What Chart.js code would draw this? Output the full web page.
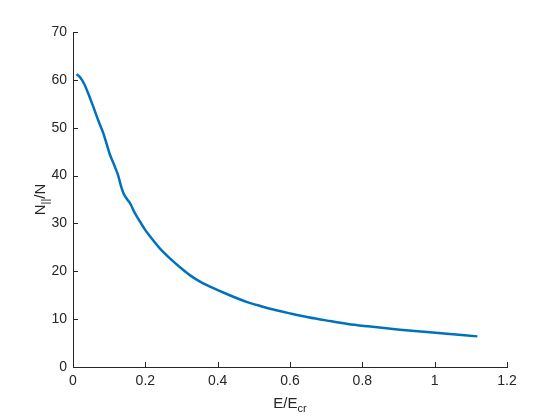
<!DOCTYPE html>
<html>
<head>
<meta charset="utf-8">
<script src="https://cdn.jsdelivr.net/npm/chart.js@4"></script>
<style>
  html, body { margin: 0; padding: 0; background: #fff; }
</style>
</head>
<body>
<canvas id="chart" width="560" height="420"></canvas>
<script>
// E/Ecr values and N||/N
const ratio = [0.010, 0.020, 0.030, 0.043, 0.056, 0.070, 0.084, 0.093, 0.102, 0.116,
  0.125, 0.132, 0.139, 0.150, 0.158, 0.170, 0.185, 0.200, 0.213, 0.240, 0.268, 0.295,
  0.323, 0.350, 0.379, 0.430, 0.480, 0.520, 0.554, 0.600, 0.650, 0.711, 0.760, 0.816,
  0.904, 1.010, 1.118];
const nRatio = [61.2, 60.5, 59.3, 57.0, 54.4, 51.5, 48.8, 46.6, 44.4, 41.8,
  40.0, 38.0, 36.4, 35.0, 34.2, 32.3, 30.4, 28.6, 27.3, 24.8, 22.7, 20.9,
  19.2, 17.9, 16.8, 15.1, 13.6, 12.7, 12.0, 11.2, 10.4, 9.6, 9.0, 8.5,
  7.8, 7.1, 6.4];
const xTicks = [0, 0.2, 0.4, 0.6, 0.8, 1, 1.2];
const yTicks = [0, 10, 20, 30, 40, 50, 60, 70];

const axisColor = "#262626";
const tickFont = { family: "'Liberation Sans', Arial, sans-serif", size: 14 };

// inward tick marks + titles with subscripts
const matlabAxes = {
  id: "matlabAxes",
  afterDraw(chart) {
    const { ctx, chartArea: a, scales: { x, y } } = chart;
    ctx.save();
    ctx.strokeStyle = axisColor;
    ctx.lineWidth = 1;
    ctx.beginPath();
    xTicks.forEach((v) => {
      const px = Math.round(x.getPixelForValue(v)) + 0.5;
      ctx.moveTo(px, a.bottom);
      ctx.lineTo(px, a.bottom - 5);
    });
    yTicks.forEach((v) => {
      const py = Math.round(y.getPixelForValue(v)) + 0.5;
      ctx.moveTo(a.left, py);
      ctx.lineTo(a.left + 5, py);
    });
    ctx.stroke();

    const big = "15px 'Liberation Sans', Arial, sans-serif";
    const small = "11px 'Liberation Sans', Arial, sans-serif";
    ctx.fillStyle = axisColor;
    ctx.textBaseline = "alphabetic";
    ctx.textAlign = "left";

    // x title: E/E_cr
    ctx.font = big;
    const w1 = ctx.measureText("E/E").width;
    ctx.font = small;
    const w2 = ctx.measureText("cr").width;
    let sx = (a.left + a.right) / 2 - (w1 + w2) / 2;
    ctx.font = big;
    ctx.fillText("E/E", sx, 408);
    ctx.font = small;
    ctx.fillText("cr", sx + w1, 412);

    // y title: N_||/N
    ctx.translate(45, (a.top + a.bottom) / 2);
    ctx.rotate(-Math.PI / 2);
    ctx.font = big;
    const n1 = ctx.measureText("N").width;
    const n3 = ctx.measureText("/N").width;
    ctx.font = small;
    const n2 = ctx.measureText("||").width;
    let sy = -(n1 + n2 + n3) / 2;
    ctx.font = big;
    ctx.fillText("N", sy, 0);
    ctx.font = small;
    ctx.fillText("||", sy + n1, 4);
    ctx.font = big;
    ctx.fillText("/N", sy + n1 + n2, 0);
    ctx.restore();
  },
};

new Chart(document.getElementById("chart"), {
  type: "scatter",
  data: {
    datasets: [
      {
        data: ratio.map((v, i) => ({ x: v, y: nRatio[i] })),
        showLine: true,
        borderColor: "rgb(0, 114, 189)",
        borderWidth: 2.5,
        pointRadius: 0,
        cubicInterpolationMode: "monotone",
      },
    ],
  },
  options: {
    responsive: false,
    animation: false,
    devicePixelRatio: 1,
    layout: { padding: { left: 0, right: 53, top: 32, bottom: 0 } },
    plugins: { legend: { display: false }, tooltip: { enabled: false } },
    scales: {
      x: {
        type: "linear",
        min: 0,
        max: 1.2,
        afterBuildTicks: (s) => { s.ticks = xTicks.map((v) => ({ value: v })); },
        afterFit: (s) => { s.height = 53; },
        grid: { display: false, drawTicks: false },
        border: { color: axisColor, width: 1 },
        ticks: {
          color: axisColor,
          font: tickFont,
          padding: 6,
          maxRotation: 0,
          callback: (v) => String(Math.round(v * 10) / 10),
        },
      },
      y: {
        type: "linear",
        min: 0,
        max: 70,
        afterBuildTicks: (s) => { s.ticks = yTicks.map((v) => ({ value: v })); },
        afterFit: (s) => { s.width = 73; },
        grid: { display: false, drawTicks: false },
        border: { color: axisColor, width: 1 },
        ticks: { color: axisColor, font: tickFont, padding: 6 },
      },
    },
  },
  plugins: [matlabAxes],
});
</script>
</body>
</html>
